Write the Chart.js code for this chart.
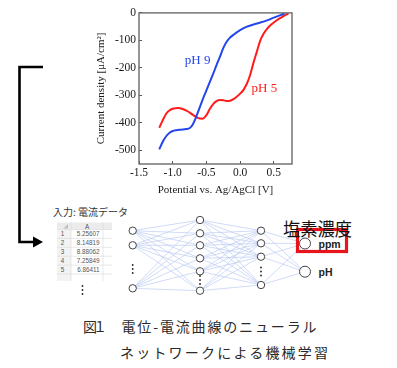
<!DOCTYPE html>
<html>
<head>
<meta charset="utf-8">
<script src="https://cdn.jsdelivr.net/npm/chart.js@4.4.0/dist/chart.umd.min.js"></script>
<style>
html, body { margin: 0; padding: 0; background: #fff; }
#page { position: relative; width: 397px; height: 368px; overflow: hidden; background: #fff; }
#diagram { position: absolute; left: 0; top: 0; }
#chartBox { position: absolute; left: 0; top: 0; width: 310px; height: 200px; }
</style>
</head>
<body>
<div id="page">
  <svg id="diagram" width="397" height="368" xmlns="http://www.w3.org/2000/svg"></svg>
  <div id="chartBox"><canvas id="cv"></canvas></div>
</div>
<script>
// chart values
var potentialPH9 = [-1.2, -1.15, -1.1, -1.05, -1.0, -0.95, -0.88, -0.8, -0.75, -0.7, -0.65, -0.6, -0.55, -0.5, -0.45, -0.4, -0.35, -0.3, -0.25, -0.2, -0.15, -0.1, 0.0, 0.1, 0.2, 0.3, 0.4, 0.5, 0.6, 0.66];
var currentPH9 = [-497, -470, -450, -437, -430, -427, -425, -423, -420, -405, -377, -345, -312, -282, -252, -222, -190, -160, -128, -105, -90, -80, -63, -50, -42, -35, -27, -17, -8, -2];

var potentialPH5 = [-1.2, -1.15, -1.1, -1.05, -1.0, -0.92, -0.85, -0.78, -0.7, -0.62, -0.56, -0.5, -0.45, -0.4, -0.35, -0.3, -0.25, -0.2, -0.15, -0.1, -0.05, 0.0, 0.05, 0.1, 0.15, 0.2, 0.25, 0.3, 0.35, 0.4, 0.45, 0.5, 0.55, 0.6, 0.65, 0.7, 0.72];
var currentPH5 = [-418, -392, -368, -355, -349, -346, -350, -358, -371, -383, -385, -372, -350, -332, -321, -317, -318, -321, -320, -314, -305, -294, -280, -258, -225, -180, -140, -100, -75, -58, -45, -35, -26, -18, -11, -4, -2];

var seriesNames = ['pH 9', 'pH 5'];
var xTicks = [-1.5, -1.0, -0.5, 0.0, 0.5];
var yTicks = [-500, -400, -300, -200, -100, 0];

// spreadsheet input + outputs of the network
var cellValues = ['5.25607', '8.14819', '8.88062', '7.25849', '6.86411'];
var outputNames = ['ppm', 'pH'];

function toPoints(xs, ys) {
  return xs.map(function (x, i) { return { x: x, y: ys[i] }; });
}

// frame around the plot, like the original box
var framePlugin = {
  id: 'frame',
  afterDatasetsDraw: function (chart) {
    var a = chart.chartArea, ctx = chart.ctx;
    ctx.save();
    ctx.strokeStyle = '#6a6a6a';
    ctx.lineWidth = 1.4;
    ctx.strokeRect(a.left, a.top, a.right - a.left, a.bottom - a.top);
    ctx.restore();
  }
};

// "pH 9" / "pH 5" next to the curves
var curveLabels = {
  id: 'curveLabels',
  afterDatasetsDraw: function (chart, args, opts) {
    var ctx = chart.ctx;
    ctx.save();
    ctx.font = '13px "Liberation Serif"';
    ctx.textAlign = 'center';
    ctx.textBaseline = 'middle';
    chart.data.datasets.forEach(function (ds, i) {
      var p = opts.anchors[i];
      ctx.fillStyle = ds.borderColor;
      ctx.fillText(ds.label, chart.scales.x.getPixelForValue(p.x), chart.scales.y.getPixelForValue(p.y));
    });
    ctx.restore();
  }
};

var serif = { family: '"Liberation Serif", "Times New Roman", serif', size: 11 };
var tickFont = { family: '"Liberation Serif", "Times New Roman", serif', size: 11.5 };

new Chart(document.getElementById('cv'), {
  type: 'line',
  data: {
    datasets: [{
      label: seriesNames[0],
      data: toPoints(potentialPH9, currentPH9),
      borderColor: '#2446ee',
      borderWidth: 2,
      pointRadius: 0,
      cubicInterpolationMode: 'monotone'
    }, {
      label: seriesNames[1],
      data: toPoints(potentialPH5, currentPH5),
      borderColor: '#ff1c1c',
      borderWidth: 2,
      pointRadius: 0,
      cubicInterpolationMode: 'monotone'
    }]
  },
  options: {
    responsive: true,
    maintainAspectRatio: false,
    animation: false,
    layout: { padding: { left: 88, top: 8.5, right: 18, bottom: 0 } },
    plugins: {
      legend: { display: false },
      tooltip: { enabled: false },
      curveLabels: { anchors: [{ x: -0.63, y: -172 }, { x: 0.36, y: -274 }] }
    },
    scales: {
      x: {
        type: 'linear',
        min: -1.5,
        max: 0.77,
        afterBuildTicks: function (s) { s.ticks = xTicks.map(function (v) { return { value: v }; }); },
        afterFit: function (s) { s.height = 36; },
        ticks: {
          color: '#1a1a1a',
          font: tickFont,
          padding: 5.4,
          maxRotation: 0,
          callback: function (v) { return v.toFixed(1); }
        },
        grid: { drawOnChartArea: false, tickLength: -3, color: '#555' },
        border: { display: false },
        title: {
          display: true,
          text: 'Potential vs. Ag/AgCl [V]',
          color: '#1a1a1a',
          font: serif,
          padding: { top: 0, bottom: 3.4 }
        }
      },
      y: {
        min: -550,
        max: 0,
        afterBuildTicks: function (s) { s.ticks = yTicks.map(function (v) { return { value: v }; }); },
        afterFit: function (s) { s.width = 51; },
        ticks: { color: '#1a1a1a', font: tickFont, padding: 6 },
        grid: { drawOnChartArea: false, tickLength: -3, color: '#555' },
        border: { display: false },
        title: {
          display: true,
          text: 'Current density [\u03bcA/cm\u00b2]',
          color: '#1a1a1a',
          font: serif,
          padding: { top: 6.4, bottom: 0 }
        }
      }
    }
  },
  plugins: [framePlugin, curveLabels]
});

// ---- lower part: arrow, input sheet, network, caption ----
var svg = '';
function add(s) { svg += s; }

// arrow from the chart down to the input
add('<path d="M43 67 H19.5 V242 H34" fill="none" stroke="#000" stroke-width="2.6"/>');
add('<polygon points="33,236.5 43,242 33,247.5" fill="#000"/>');

// input label
add('<text x="53" y="211" font-family="Noto Sans CJK JP" font-size="10" fill="#333" dominant-baseline="central">入力: 電流データ</text>');

// spreadsheet snippet
var sheetTop = 222.5, rowH = 8.9, colNum = [57, 71], colA = [71, 103];
add('<defs><clipPath id="sheetClip"><rect x="56" y="221" width="57" height="60"/></clipPath></defs>');
add('<g clip-path="url(#sheetClip)" font-family="Liberation Sans" font-size="6.3" fill="#555">');
add('<rect x="57" y="' + sheetTop + '" width="55" height="7" fill="#ececec"/>');
add('<rect x="57" y="' + (sheetTop + 7) + '" width="14" height="60" fill="#f3f3f3"/>');
add('<polygon points="68,224 68,228.5 63.5,228.5" fill="#bdbdbd"/>');
add('<text x="87" y="' + (sheetTop + 3.6) + '" text-anchor="middle" dominant-baseline="central">A</text>');
for (var i = 0; i <= 6; i++) {
  var yy = sheetTop + 7 + i * rowH;
  add('<line x1="57" x2="112" y1="' + yy + '" y2="' + yy + '" stroke="#d9d9d9" stroke-width="0.6"/>');
}
[colNum[1], colA[1]].forEach(function (x) {
  add('<line x1="' + x + '" x2="' + x + '" y1="' + sheetTop + '" y2="282" stroke="#d9d9d9" stroke-width="0.6"/>');
});
cellValues.forEach(function (v, i) {
  var cy = sheetTop + 7 + (i + 0.5) * rowH;
  add('<text x="62.5" y="' + cy + '" text-anchor="middle" dominant-baseline="central">' + (i + 1) + '</text>');
  add('<text x="99.5" y="' + cy + '" text-anchor="end" dominant-baseline="central">' + v + '</text>');
});
add('</g>');

function vdots(x, cy, r) {
  [-4, 0, 4].forEach(function (d) {
    add('<circle cx="' + x + '" cy="' + (cy + d) + '" r="' + r + '" fill="#222"/>');
  });
}
vdots(82.5, 290, 0.9);

// network layers
var layers = [
  { x: 132.7, r: 3.7, ys: [230.7, 245.3, 288.3], dots: 269 },
  { x: 200, r: 3.7, ys: [220, 233.3, 245.3, 258.3, 271.3, 290.7], dots: 280 },
  { x: 261, r: 3.7, ys: [230.7, 243.3, 256.7, 285], dots: 271.5 },
  { x: 305, r: 5.5, ys: [243.5, 271.7] }
];
for (var l = 0; l < layers.length - 1; l++) {
  layers[l].ys.forEach(function (y1) {
    layers[l + 1].ys.forEach(function (y2) {
      add('<line x1="' + layers[l].x + '" y1="' + y1 + '" x2="' + layers[l + 1].x + '" y2="' + y2 + '" stroke="#bcccf2" stroke-width="0.7"/>');
    });
  });
}
layers.forEach(function (L) {
  L.ys.forEach(function (y) {
    add('<circle cx="' + L.x + '" cy="' + y + '" r="' + L.r + '" fill="#fff" stroke="#444" stroke-width="1"/>');
  });
  if (L.dots) vdots(L.x, L.dots, 0.9);
});

// outputs
var outLayer = layers[layers.length - 1];
outputNames.forEach(function (name, i) {
  add('<text x="318.5" y="' + outLayer.ys[i] + '" font-family="Liberation Sans" font-weight="bold" font-size="10.5" fill="#222" dominant-baseline="central">' + name + '</text>');
});
add('<rect x="297.5" y="229.5" width="49" height="22" fill="none" stroke="#e8141c" stroke-width="3.2"/>');
add('<text x="283" y="228" font-family="Noto Sans CJK JP" font-size="18" fill="#111" dominant-baseline="central" textLength="69" lengthAdjust="spacingAndGlyphs">塩素濃度</text>');

// caption
var capFont = 'font-family="Noto Sans CJK JP" font-size="14" fill="#2a2a2a" dominant-baseline="central"';
add('<text x="83" y="326" ' + capFont + ' textLength="24">図１</text>');
add('<text x="121.5" y="326" ' + capFont + ' textLength="195">電位-電流曲線のニューラル</text>');
add('<text x="120" y="351.5" ' + capFont + ' textLength="208">ネットワークによる機械学習</text>');

document.getElementById('diagram').innerHTML = svg;
</script>
</body>
</html>
